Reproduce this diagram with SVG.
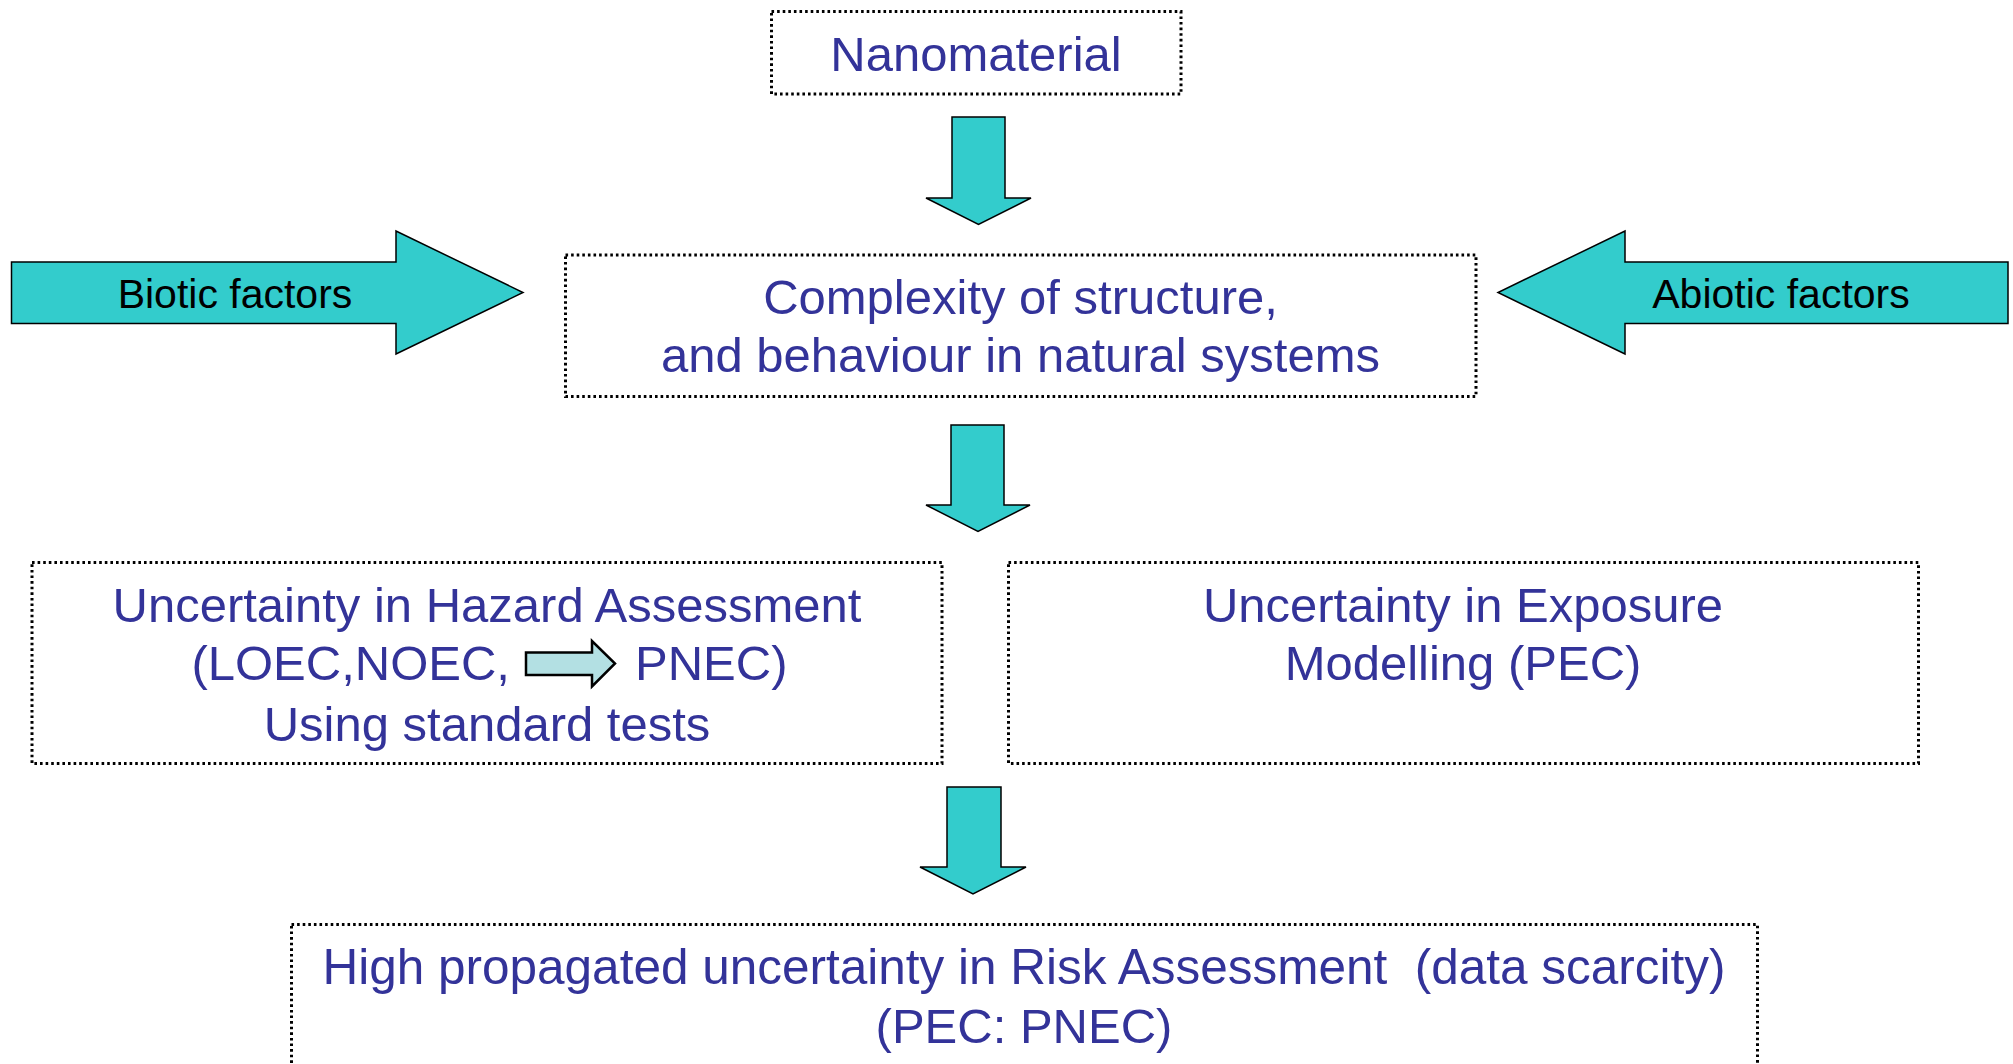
<svg xmlns="http://www.w3.org/2000/svg" width="2013" height="1064" viewBox="0 0 2013 1064">
<style>
.box{fill:#fff;stroke:#000;stroke-width:3;stroke-dasharray:2.6 3}
.arr{fill:#33CCCC;stroke:#000;stroke-width:1.5;stroke-linejoin:miter}
.t{font-family:"Liberation Sans",Arial,sans-serif;font-size:49px;fill:#333399;text-anchor:middle}
.tb{font-family:"Liberation Sans",Arial,sans-serif;font-size:41px;fill:#000;text-anchor:middle}
</style>
<rect width="2013" height="1064" fill="#fff"/>
<g id="connectors">
<polygon class="arr" points="952,117 1005,117 1005,198 1031,198 978.5,224.5 926,198 952,198"/>
<polygon class="arr" points="951,425 1004,425 1004,505 1030,505 978,531.5 926,505 951,505"/>
<polygon class="arr" points="947,787 1001,787 1001,867 1026,867 973,894 920,867 947,867"/>
</g>
<g id="nanomaterial">
<rect class="box" x="771.5" y="11.5" width="409.5" height="82.5"/>
<text class="t" x="976" y="71">Nanomaterial</text>
</g>
<g id="biotic">
<polygon class="arr" points="11.5,262 396,262 396,231 523,292.5 396,354 396,323.5 11.5,323.5"/>
<text class="tb" x="235" y="308">Biotic factors</text>
</g>
<g id="abiotic">
<polygon class="arr" points="2008,262 1625,262 1625,231 1498,292.5 1625,354 1625,323.5 2008,323.5"/>
<text class="tb" x="1781" y="308">Abiotic factors</text>
</g>
<g id="complexity">
<rect class="box" x="565.5" y="255" width="910.5" height="141.5"/>
<text class="t" x="1020.5" y="314">Complexity of structure,</text>
<text class="t" x="1020.5" y="372">and behaviour in natural systems</text>
</g>
<g id="hazard">
<rect class="box" x="32" y="562.5" width="910" height="201"/>
<text class="t" x="487" y="622">Uncertainty in Hazard Assessment</text>
<text class="t" x="510" y="680" style="text-anchor:end">(LOEC,NOEC,</text>
<polygon points="526,652.5 592,652.5 592,641 615,663.5 592,686.5 592,675 526,675" fill="#B3E0E3" stroke="#000" stroke-width="2.5"/>
<text class="t" x="635" y="680" style="text-anchor:start">PNEC)</text>
<text class="t" x="487" y="741">Using standard tests</text>
</g>
<g id="exposure">
<rect class="box" x="1008.5" y="562.5" width="910" height="201"/>
<text class="t" x="1463" y="622">Uncertainty in Exposure</text>
<text class="t" x="1463" y="680">Modelling (PEC)</text>
</g>
<g id="risk">
<rect class="box" x="291.5" y="924.5" width="1466" height="160"/>
<text class="t" x="1024" y="984" style="font-size:49.5px" xml:space="preserve">High propagated uncertainty in Risk Assessment  (data scarcity)</text>
<text class="t" x="1024" y="1043">(PEC: PNEC)</text>
</g>
</svg>
